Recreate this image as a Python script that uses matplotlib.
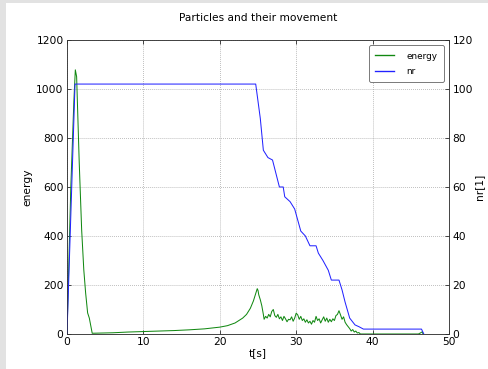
import matplotlib
matplotlib.use("Agg")
import matplotlib.pyplot as plt
from matplotlib.patches import Rectangle

# energy series (t, value)
energy_t = [0.0, 0.5, 0.9, 1.09, 1.26, 1.6, 1.92, 2.2, 2.44, 2.7, 2.92, 3.3,
            6.0, 8.0, 10.0, 12.0, 14.0, 16.0, 18.0, 20.0, 21.0, 22.0, 23.0, 23.5,
            24.0, 24.4, 24.7, 24.9, 25.0, 25.1, 25.3, 25.5, 25.7,
            25.8, 26.0, 26.2, 26.4, 26.6, 26.8, 27.0, 27.2, 27.4, 27.6, 27.8,
            28.0, 28.2, 28.4, 28.6, 28.8, 29.0, 29.2, 29.4, 29.6, 29.8,
            30.0, 30.2, 30.4, 30.6, 30.8, 31.0, 31.2, 31.4, 31.6, 31.8,
            32.0, 32.2, 32.4, 32.6, 32.8, 33.0, 33.2, 33.4, 33.6, 33.8,
            34.0, 34.2, 34.4, 34.6, 34.8, 35.0, 35.2, 35.4, 35.6, 35.8, 36.0,
            36.2, 36.4, 36.6, 36.8, 37.0, 37.2, 37.4, 37.6, 37.8, 38.0, 38.2, 38.4,
            46.0, 46.3, 46.5, 46.6]
energy_v = [0, 600, 950, 1078, 1050, 700, 424, 261, 167, 86, 65, 3,
            5, 8, 10, 12, 14, 17, 21, 28, 34, 45, 65, 80,
            105, 135, 165, 185, 178, 160, 140, 115, 80,
            60, 72, 65, 80, 70, 92, 100, 75, 68, 80, 62,
            70, 55, 72, 62, 50, 60, 58, 70, 52, 65,
            85, 78, 60, 72, 55, 62, 48, 58, 45, 52,
            40, 55, 48, 72, 55, 62, 45, 58, 70, 52,
            65, 48, 60, 50, 62, 55, 75, 80, 95, 78, 60,
            70, 48, 38, 30, 22, 12, 18, 8, 12, 4, 6, 0,
            0, 5, 9, 0]

# number of particles (t, value)
nr_t = [0.0, 1.05, 24.7, 25.0, 25.3, 25.7, 26.3, 26.9, 27.8, 28.3, 28.5, 29.2,
        29.8, 30.6, 31.2, 31.8, 32.6, 32.9, 33.5, 34.2, 34.6, 35.6, 36.0,
        36.4, 37.0, 37.7, 38.2, 38.8, 46.4, 46.7]
nr_v = [0, 102, 102, 95, 88, 75, 72, 71, 60, 60, 56, 54,
        51, 42, 40, 36, 36, 33, 30, 26, 22, 22, 18,
        13, 6.5, 3.7, 3, 2, 2, 0]

fig = plt.figure(figsize=(8, 6.05), dpi=61, facecolor="white")
fig.patches.append(Rectangle((0, 0), 6 / 488, 1, transform=fig.transFigure,
                             facecolor="#e2e2e2", edgecolor="none", zorder=-10))
fig.patches.append(Rectangle((0, 1 - 3 / 369), 1, 3 / 369, transform=fig.transFigure,
                             facecolor="#e2e2e2", edgecolor="none", zorder=-10))

ax = fig.add_axes([67 / 488, 1 - 334 / 369, (449 - 67) / 488, (334 - 40) / 369])
ax2 = ax.twinx()

l1, = ax.plot(energy_t, energy_v, color="#118811", lw=1.2, label="energy")
l2, = ax2.plot(nr_t, nr_v, color="#2222ff", lw=1.2, label="nr")

ax.set_xlim(0, 50)
ax.set_ylim(0, 1200)
ax2.set_ylim(0, 120)
ax.set_xticks([0, 10, 20, 30, 40, 50])
ax.set_yticks([0, 200, 400, 600, 800, 1000, 1200])
ax2.set_yticks([0, 20, 40, 60, 80, 100, 120])

ax.grid(True, linestyle=":", color="#999999", lw=0.9)
for a in (ax, ax2):
    a.tick_params(direction="in", labelsize=12.5, length=5, pad=4)
    for s in a.spines.values():
        s.set_color("#333333")
ax.tick_params(top=True)

ax.set_xlabel("t[s]", fontsize=12.5, labelpad=1)
ax.set_ylabel("energy", fontsize=12.5, labelpad=4)
ax2.set_ylabel("nr[1]", fontsize=12.5, labelpad=2)
ax.set_title("Particles and their movement", fontsize=12.5, pad=22)

leg = ax2.legend([l1, l2], ["energy", "nr"], loc="upper right", fontsize=10.5,
                 fancybox=True, framealpha=1, edgecolor="#666666",
                 handlelength=2.1, handletextpad=1.4, borderpad=0.7,
                 labelspacing=0.7, borderaxespad=0.6)
for h in leg.get_lines():
    h.set_linewidth(1.6)

fig.savefig("out.png", dpi=61, facecolor=fig.get_facecolor())
